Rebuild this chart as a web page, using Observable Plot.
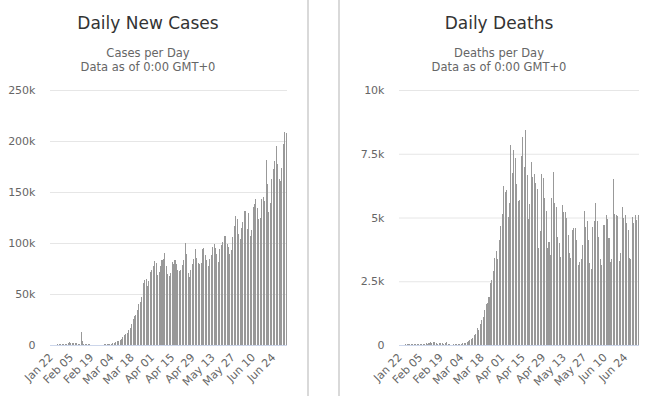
<!DOCTYPE html>
<html>
<head>
<meta charset="utf-8">
<script src="https://cdn.jsdelivr.net/npm/d3@7"></script>
<script src="https://cdn.jsdelivr.net/npm/@observablehq/plot@0.6"></script>
<style>
  html, body { margin: 0; padding: 0; background: #fff; }
  body { width: 647px; height: 396px; position: relative; overflow: hidden; font-family: "DejaVu Sans", sans-serif; }
  .panel { position: absolute; top: 0; height: 396px; }
  .title { position: absolute; text-align: center; font-size: 17px; line-height: 17px; color: #333; white-space: nowrap; }
  .sub { position: absolute; text-align: center; font-size: 11.5px; line-height: 14px; color: #666; white-space: nowrap; }
  .plot { position: absolute; left: 0; top: 78px; }
  .divider { position: absolute; top: 0; width: 2px; height: 396px; background: #d9d9d9; }
</style>
</head>
<body>
<div class="divider" style="left:307px"></div>
<div class="divider" style="left:338px"></div>
<div id="left" class="panel" style="left:0px;width:308px"></div>
<div id="right" class="panel" style="left:339px;width:308px"></div>
<script>
const startDate = "2020-01-22";
const dayCount = 164;
const tickLabels = ["Jan 22","Feb 05","Feb 19","Mar 04","Mar 18","Apr 01","Apr 15","Apr 29","May 13","May 27","Jun 10","Jun 24"];

const newCases = [
0, 100, 200, 300, 300,
700, 700, 600, 800, 1000,
1300, 1400, 2000, 2600, 2300,
1900, 1700, 1600, 1800, 1300,
1200, 12500, 3600, 1300, 1000,
1000, 900, 600, 150, 150,
150, 150, 150, 150, 150,
150, 400, 500, 500, 700,
800, 1200, 1000, 2300, 2300,
3000, 3600, 4000, 5200, 5900,
7800, 9800, 11000, 11800, 15000,
17000, 21000, 25500, 28000, 29400,
34000, 40000, 42000, 47000, 61000,
64000, 65000, 58000, 63000, 72000,
74000, 77000, 82000, 80000, 69000,
71500, 77000, 83000, 84000, 90000,
77000, 70000, 68000, 71000, 81000,
79000, 83000, 79000, 74000, 73000,
74000, 78000, 83000, 100000, 89000,
71000, 67000, 74000, 79000, 84000,
94000, 85000, 80000, 79000, 80000,
94000, 95000, 88000, 83000, 77000,
84000, 88000, 96000, 99000, 95000,
89000, 81000, 94000, 98000, 101000,
107000, 107000, 99000, 96000, 89000,
93000, 106000, 117000, 126000, 124000,
109000, 104000, 115000, 121000, 131000,
131000, 114000, 129000, 107000, 113000,
135000, 138000, 143000, 134000, 124000,
125000, 143000, 145000, 141000, 181000,
158000, 130000, 139000, 163000, 173000,
180000, 195000, 177000, 163000, 161000,
174000, 197000, 209000, 208000
];

const newDeaths = [
10, 10, 15, 15, 20,
20, 25, 25, 25, 30,
30, 35, 40, 40, 40,
40, 45, 53, 67, 53,
80, 120, 80, 133, 120,
67, 53, 67, 67, 67,
53, 80, 106, 53, 20,
15, 15, 20, 27, 27,
30, 40, 53, 67, 80,
93, 133, 173, 200, 253,
293, 386, 412, 665, 600,
811, 971, 1090, 1360, 1610,
1640, 1890, 2440, 2560, 2910,
3410, 3670, 3360, 4130, 4670,
5150, 6250, 5990, 6080, 5020,
5570, 7860, 6760, 7630, 7350,
6300, 5640, 5670, 7420, 8150,
7000, 8450, 6670, 4930, 5520,
7180, 6600, 6710, 6340, 6110,
3810, 4480, 6710, 6550, 5750,
5270, 3790, 4050, 3530, 5750,
6800, 5560, 5420, 4250, 4010,
3460, 5490, 5200, 5230, 4970,
4310, 3620, 3400, 4510, 4580,
4580, 4120, 3140, 3270, 3360,
3920, 5250, 4640, 4860, 4120,
3230, 3000, 4640, 4880, 5560,
4860, 4250, 3360, 3140, 4720,
4700, 5100, 4930, 4180, 3270,
3370, 6510, 5140, 5100, 5060,
3300, 3600, 5430, 4990, 5100,
4800, 4510, 3420, 3380, 5030,
4800, 5100, 4900, 5100
];

const casesTicks = [0, 50000, 100000, 150000, 200000, 250000];
const casesTickLabels = ["0", "50k", "100k", "150k", "200k", "250k"];
const deathsTicks = [0, 2500, 5000, 7500, 10000];
const deathsTickLabels = ["0", "2.5k", "5k", "7.5k", "10k"];

const fmtDay = d3.utcFormat("%b %d");
const start = new Date(startDate + "T00:00:00Z");
const days = d3.utcDay.range(start, d3.utcDay.offset(start, dayCount)).map(fmtDay);

function makeChart(el, title, subtitle, values, ticks, tickText, yMax, mLeft, mRight, textLeft) {
  const mk = (cls, top, txt) => {
    const d = document.createElement("div");
    d.className = cls;
    d.style.top = top + "px";
    d.style.left = textLeft + "px";
    d.style.width = "296px";
    d.textContent = txt;
    el.appendChild(d);
  };
  mk("title", 15, title);
  mk("sub", 46, subtitle);
  mk("sub", 60, "Data as of 0:00 GMT+0");

  const data = days.map((d, i) => ({day: d, value: values[i]}));
  const svg = Plot.plot({
    width: 308,
    height: 318,
    marginTop: 12,
    marginBottom: 51,
    marginLeft: mLeft,
    marginRight: mRight,
    style: {fontFamily: "DejaVu Sans, sans-serif", fontSize: "11px", color: "#666", background: "transparent", overflow: "visible"},
    x: {type: "band", domain: days, paddingInner: 0.3, paddingOuter: 0.15, align: 0.5, label: null},
    y: {domain: [0, yMax], label: null},
    marks: [
      Plot.gridY(ticks, {stroke: "#e6e6e6", strokeOpacity: 1}),
      Plot.barY(data, {x: "day", y: "value", fill: "#999999", shapeRendering: "crispEdges"}),
      Plot.ruleY([0], {stroke: "#ccd6eb", strokeWidth: 1}),
      Plot.axisY({ticks: ticks, tickFormat: (d) => tickText[ticks.indexOf(d)], tickSize: 0, tickPadding: 15, label: null, fill: "#666"}),
      Plot.axisX({ticks: tickLabels, tickRotate: -45, tickSize: 0, tickPadding: 10, label: null, fill: "#666"})
    ]
  });
  svg.classList.add("plot");
  el.appendChild(svg);
}

makeChart(document.getElementById("left"), "Daily New Cases", "Cases per Day", newCases, casesTicks, casesTickLabels, 250000, 50, 21, 0);
makeChart(document.getElementById("right"), "Daily Deaths", "Deaths per Day", newDeaths, deathsTicks, deathsTickLabels, 10000, 60, 8, 12);
</script>
</body>
</html>
